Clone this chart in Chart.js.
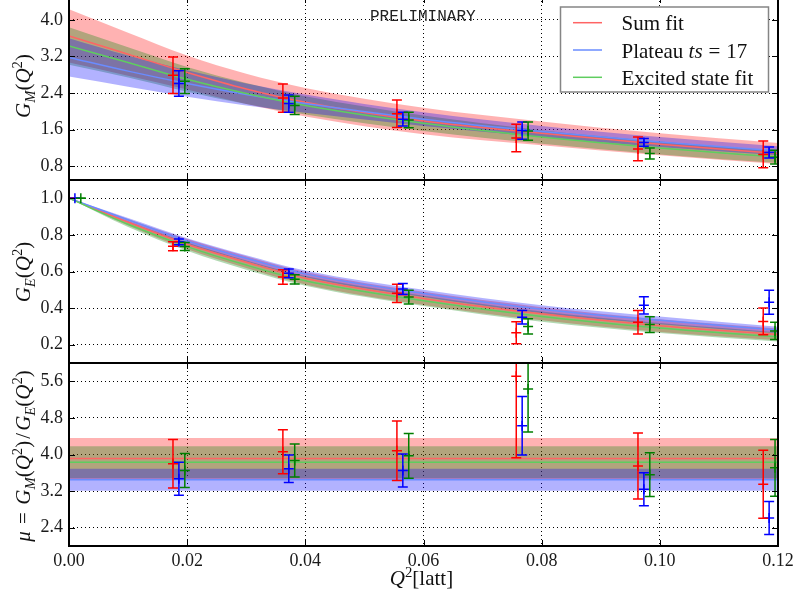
<!DOCTYPE html>
<html>
<head>
<meta charset="utf-8">
<title>Nucleon form factors</title>
<script src="https://cdn.jsdelivr.net/npm/chart.js@4.4.1/dist/chart.umd.min.js"></script>
<style>
  html, body { margin: 0; padding: 0; background: #fff; }
  #wrap { position: relative; width: 795px; height: 601px; overflow: hidden; background: #fff; }
  .panel { position: absolute; left: 0; width: 795px; }
</style>
</head>
<body>
<div id="wrap">
  <div class="panel" id="boxGM"><canvas id="cGM"></canvas></div>
  <div class="panel" id="boxGE"><canvas id="cGE"></canvas></div>
  <div class="panel" id="boxMU"><canvas id="cMU"></canvas></div>
</div>
<script>
// ---------------------------------------------------------------------------
// Data
// ---------------------------------------------------------------------------
// Q^2 of the data sets (lattice units); G_E also has the forward point Q^2 = 0
const q2 = [0.0176, 0.0362, 0.0555, 0.0757, 0.0963, 0.1175];
const q2E = [0, 0.0176, 0.0362, 0.0555, 0.0757, 0.0963, 0.1175];
// series order everywhere: [Sum fit, Plateau ts=17, Excited state fit]
const seriesShift = [0, 0.001, 0.002];   // small horizontal offsets so the bars stay apart

// magnetic form factor G_M
const gmSum = [2.79, 2.29, 1.95, 1.42, 1.18, 1.06];
const gmSumErr = [0.40, 0.31, 0.30, 0.30, 0.26, 0.29];
const gmPlat = [2.61, 2.17, 1.83, 1.58, 1.32, 1.10];
const gmPlatErr = [0.28, 0.19, 0.15, 0.19, 0.085, 0.12];
const gmExc = [2.66, 2.13, 1.81, 1.57, 1.08, 1.00];
const gmExcErr = [0.27, 0.20, 0.17, 0.20, 0.12, 0.15];

// electric form factor G_E
const geSum = [1.0, 0.738, 0.570, 0.481, 0.265, 0.323, 0.327];
const geSumErr = [0, 0.025, 0.039, 0.050, 0.060, 0.064, 0.073];
const gePlat = [1.0, 0.762, 0.590, 0.505, 0.350, 0.415, 0.432];
const gePlatErr = [0, 0.016, 0.024, 0.030, 0.037, 0.047, 0.065];
const geExc = [1.0, 0.737, 0.557, 0.460, 0.300, 0.310, 0.275];
const geExcErr = [0, 0.022, 0.025, 0.037, 0.042, 0.043, 0.047];

// magnetic moment ratio mu = G_M / G_E
const muSum = [3.80, 4.06, 4.08, 5.71, 3.75, 3.35];
const muSumErr = [0.53, 0.48, 0.65, 1.78, 0.72, 0.745];
const muPlat = [3.47, 3.69, 3.65, 4.63, 3.24, 2.61];
const muPlatErr = [0.36, 0.30, 0.36, 0.64, 0.36, 0.36];
const muExc = [3.65, 3.87, 3.97, 5.43, 3.56, 3.71];
const muExcErr = [0.37, 0.36, 0.49, 0.94, 0.48, 0.62];

// fitted curves sampled in Q^2, with their one-sigma half widths
const qFit = [0, 0.01, 0.02, 0.03, 0.04, 0.06, 0.08, 0.10, 0.12];
const gmFitSum = [3.65, 3.25, 2.85, 2.49, 2.20, 1.79, 1.52, 1.28, 1.08];
const gmFitSumErr = [0.58, 0.47, 0.37, 0.33, 0.31, 0.29, 0.26, 0.24, 0.23];
const gmFitPlat = [3.18, 2.88, 2.61, 2.37, 2.17, 1.83, 1.56, 1.33, 1.14];
const gmFitPlatErr = [0.42, 0.34, 0.29, 0.24, 0.20, 0.15, 0.12, 0.11, 0.10];
const gmFitExc = [3.43, 3.07, 2.70, 2.39, 2.13, 1.74, 1.44, 1.20, 1.00];
const gmFitExcErr = [0.41, 0.33, 0.27, 0.23, 0.20, 0.17, 0.15, 0.14, 0.13];

const geFitSum = [1.0, 0.869, 0.749, 0.651, 0.563, 0.453, 0.369, 0.304, 0.256];
const geFitSumErr = [0, 0.018, 0.028, 0.032, 0.034, 0.036, 0.036, 0.035, 0.032];
const geFitPlat = [1.0, 0.882, 0.767, 0.672, 0.587, 0.480, 0.394, 0.333, 0.280];
const geFitPlatErr = [0, 0.010, 0.015, 0.017, 0.018, 0.020, 0.022, 0.021, 0.018];
const geFitExc = [1.0, 0.858, 0.736, 0.635, 0.549, 0.440, 0.354, 0.291, 0.242];
const geFitExcErr = [0, 0.015, 0.022, 0.025, 0.027, 0.028, 0.028, 0.027, 0.025];

// constant fits of mu over the whole Q^2 range
const muFitRange = [0, 0.12];
const muFit = [3.91, 3.45, 3.83];
const muFitErr = [0.45, 0.24, 0.35];

// axis ticks
const xTicks = [0, 0.02, 0.04, 0.06, 0.08, 0.10, 0.12];
const gmTicks = [0.8, 1.6, 2.4, 3.2, 4.0];
const geTicks = [0.2, 0.4, 0.6, 0.8, 1.0];
const muTicks = [2.4, 3.2, 4.0, 4.8, 5.6];

// ---------------------------------------------------------------------------
// Styling
// ---------------------------------------------------------------------------
const SERIF = '"Liberation Serif", "DejaVu Serif", serif';
const PLOT_LEFT = 69, PLOT_RIGHT = 778;
const barColors = ['#ff0000', '#0000ff', '#007f00'];
const lineColors = ['#ff6464', '#6a8cff', '#5fcd5f'];
const bandColors = ['rgba(255,0,0,0.3)', 'rgba(0,0,255,0.3)', 'rgba(0,128,0,0.3)'];
const bandOrder = [30, 10, 20];  // sum band at the back, plateau band in front

// ---------------------------------------------------------------------------
// Dataset builders
// ---------------------------------------------------------------------------
function bandSets(xs, mid, err, k) {
  const common = { pointRadius: 0, borderWidth: 0, cubicInterpolationMode: 'monotone', order: bandOrder[k] };
  return [
    { ...common, data: xs.map((x, i) => ({ x, y: mid[i] - err[i] })), fill: false },
    { ...common, data: xs.map((x, i) => ({ x, y: mid[i] + err[i] })), fill: '-1', backgroundColor: bandColors[k] }
  ];
}
function lineSet(xs, mid, k) {
  return { data: xs.map((x, i) => ({ x, y: mid[i] })), borderColor: lineColors[k], borderWidth: 1.5,
           pointRadius: 0, fill: false, cubicInterpolationMode: 'monotone', order: 5 - k };
}
function pointSet(xs, ys, errs, k) {
  return { data: xs.map((x, i) => ({ x: x + seriesShift[k], y: ys[i] })), err: errs, showLine: false,
           pointStyle: 'cross', pointRadius: 5, pointBorderWidth: 1.5, borderColor: barColors[k],
           pointBorderColor: barColors[k], order: 1 };
}
function fitSets(xs, mids, errs) {
  let out = [];
  [0, 2, 1].forEach(k => { out = out.concat(bandSets(xs, mids[k], errs[k], k)); });
  [0, 1, 2].forEach(k => out.push(lineSet(xs, mids[k], k)));
  return out;
}

// ---------------------------------------------------------------------------
// Rich text (italics, sub- and superscripts)
// ---------------------------------------------------------------------------
function runFont(r, size) {
  const sz = r.s ? size * 0.7 : size;
  return (r.i ? 'italic ' : '') + sz + 'px ' + SERIF;
}
function runsWidth(ctx, runs, size) {
  let w = 0;
  for (const r of runs) {
    if (r.g) { w += r.g * size; continue; }
    ctx.font = runFont(r, size);
    w += ctx.measureText(r.t).width;
  }
  return w;
}
function drawRuns(ctx, runs, x, y, size) {
  let cx = x;
  for (const r of runs) {
    if (r.g) { cx += r.g * size; continue; }
    ctx.font = runFont(r, size);
    const dy = r.s === -1 ? 0.22 * size : (r.s === 1 ? -0.38 * size : 0);
    ctx.fillText(r.t, cx, y + dy);
    cx += ctx.measureText(r.t).width;
  }
}
function drawVerticalTitle(ctx, runs, baseX, centerY, size) {
  ctx.save();
  ctx.translate(baseX, centerY);
  ctx.rotate(-Math.PI / 2);
  ctx.fillStyle = '#111';
  ctx.textBaseline = 'alphabetic';
  drawRuns(ctx, runs, -runsWidth(ctx, runs, size) / 2, 0, size);
  ctx.restore();
}

const titleGM = [{ t: 'G', i: true }, { t: 'M', i: true, s: -1 }, { t: '(' }, { t: 'Q', i: true }, { t: '2', s: 1 }, { t: ')' }];
const titleGE = [{ t: 'G', i: true }, { t: 'E', i: true, s: -1 }, { t: '(' }, { t: 'Q', i: true }, { t: '2', s: 1 }, { t: ')' }];
const titleMU = [{ t: 'μ', i: true }, { g: 0.35 }, { t: '=' }, { g: 0.35 }].concat(titleGM, [{ g: 0.1 }, { t: '/' }, { g: 0.1 }], titleGE);
const titleX = [{ t: 'Q', i: true }, { t: '2', s: 1 }, { t: '[latt]' }];
const legendRuns = [
  [{ t: 'Sum fit' }],
  [{ t: 'Plateau ' }, { t: 'ts', i: true }, { g: 0.28 }, { t: '=' }, { g: 0.28 }, { t: '17' }],
  [{ t: 'Excited state fit' }]
];

// ---------------------------------------------------------------------------
// Plugins
// ---------------------------------------------------------------------------
const errorBars = {
  id: 'errorBars',
  afterDatasetsDraw(chart) {
    const { ctx, chartArea: a, scales: { x, y } } = chart;
    ctx.save();
    ctx.beginPath();
    ctx.rect(a.left, a.top, a.right - a.left, a.bottom - a.top);
    ctx.clip();
    ctx.lineWidth = 1.5;
    chart.data.datasets.forEach(ds => {
      if (!ds.err) return;
      ctx.strokeStyle = ds.borderColor;
      ds.data.forEach((p, i) => {
        const px = x.getPixelForValue(p.x);
        const lo = y.getPixelForValue(p.y - ds.err[i]);
        const hi = y.getPixelForValue(p.y + ds.err[i]);
        ctx.beginPath();
        ctx.moveTo(px, lo); ctx.lineTo(px, hi);
        ctx.moveTo(px - 5, lo); ctx.lineTo(px + 5, lo);
        ctx.moveTo(px - 5, hi); ctx.lineTo(px + 5, hi);
        ctx.stroke();
      });
    });
    ctx.restore();
  }
};

const frame = {
  id: 'frame',
  afterDraw(chart) {
    const { ctx, chartArea: a, scales: { x, y } } = chart;
    const L = 6;
    ctx.save();
    ctx.strokeStyle = '#000';
    ctx.lineWidth = 1;
    ctx.beginPath();
    y.ticks.forEach(t => {
      const py = Math.round(y.getPixelForValue(t.value)) + 0.5;
      ctx.moveTo(a.left, py); ctx.lineTo(a.left + L, py);
      ctx.moveTo(a.right - L, py); ctx.lineTo(a.right, py);
    });
    x.ticks.forEach(t => {
      const px = Math.round(x.getPixelForValue(t.value)) + 0.5;
      ctx.moveTo(px, a.top); ctx.lineTo(px, a.top + L);
      ctx.moveTo(px, a.bottom - L); ctx.lineTo(px, a.bottom);
    });
    ctx.stroke();
    ctx.lineWidth = 2;
    ctx.strokeRect(a.left, a.top, a.right - a.left, a.bottom - a.top);
    ctx.restore();
  }
};

// text decorations given in page coordinates; each chart knows its own vertical offset
function decorPlugin(offsetY, draw) {
  return {
    id: 'decor',
    afterDraw(chart) {
      const ctx = chart.ctx;
      ctx.save();
      ctx.translate(0, -offsetY);
      draw(ctx);
      ctx.restore();
    }
  };
}

// ---------------------------------------------------------------------------
// Panels
// ---------------------------------------------------------------------------
const tickFont = { family: SERIF, size: 18 };

function makePanel(canvasId, top, height, areaHeight, yMin, yMax, yTicks, datasets, bottom, extra) {
  const box = document.getElementById(canvasId).parentElement;
  box.style.top = top + 'px';
  box.style.height = height + 'px';
  return new Chart(document.getElementById(canvasId), {
    type: 'line',
    data: { datasets },
    options: {
      responsive: true,
      maintainAspectRatio: false,
      animation: false,
      events: [],
      layout: { autoPadding: false, padding: { left: 0, right: 795 - PLOT_RIGHT, top: 0, bottom: 0 } },
      plugins: { legend: { display: false }, tooltip: { enabled: false } },
      scales: {
        x: {
          type: 'linear', min: 0, max: 0.12, bounds: 'data',
          afterBuildTicks: s => { s.ticks = xTicks.map(v => ({ value: v })); },
          afterFit: s => { s.height = height - areaHeight; s.paddingLeft = 0; s.paddingRight = 0; },
          ticks: { display: bottom, font: tickFont, color: '#1a1a1a', padding: 4, maxRotation: 0,
                   autoSkip: false, callback: v => Number(v).toFixed(2) },
          grid: { color: '#000', lineWidth: 1, drawTicks: false },
          border: { display: false, dash: [1, 3] }
        },
        y: {
          type: 'linear', min: yMin, max: yMax, bounds: 'data',
          afterBuildTicks: s => { s.ticks = yTicks.map(v => ({ value: v })); },
          afterFit: s => { s.width = PLOT_LEFT; s.paddingTop = 0; s.paddingBottom = 0; },
          ticks: { font: tickFont, color: '#1a1a1a', padding: 6, callback: v => Number(v).toFixed(1) },
          grid: { color: '#000', lineWidth: 1, drawTicks: false },
          border: { display: false, dash: [1, 3] }
        }
      }
    },
    plugins: [errorBars, frame].concat(extra)
  });
}

// G_M panel
const gmData = fitSets(qFit, [gmFitSum, gmFitPlat, gmFitExc], [gmFitSumErr, gmFitPlatErr, gmFitExcErr]).concat([
  pointSet(q2, gmSum, gmSumErr, 0), pointSet(q2, gmPlat, gmPlatErr, 1), pointSet(q2, gmExc, gmExcErr, 2)
]);
makePanel('cGM', -3, 183, 183, 0.5, 4.5, gmTicks, gmData, false, [decorPlugin(-3, ctx => {
  drawVerticalTitle(ctx, titleGM, 30, 86, 21);
  ctx.fillStyle = '#222';
  ctx.font = '16px "Liberation Mono", "DejaVu Sans Mono", monospace';
  ctx.textBaseline = 'alphabetic';
  ctx.fillText('PRELIMINARY', 370, 21);
  // legend
  ctx.fillStyle = '#fff';
  ctx.fillRect(560.5, 7, 208, 85);
  ctx.strokeStyle = '#858585';
  ctx.lineWidth = 1.5;
  ctx.strokeRect(560.5, 7, 208, 85);
  [22.7, 50, 77.3].forEach((ly, k) => {
    ctx.strokeStyle = lineColors[k];
    ctx.lineWidth = 1.5;
    ctx.beginPath(); ctx.moveTo(573, ly); ctx.lineTo(602, ly); ctx.stroke();
    ctx.fillStyle = '#111';
    drawRuns(ctx, legendRuns[k], 621.5, ly + 7.5, 21);
  });
})]);

// G_E panel
const geData = fitSets(qFit, [geFitSum, geFitPlat, geFitExc], [geFitSumErr, geFitPlatErr, geFitExcErr]).concat([
  pointSet(q2E, geSum, geSumErr, 0), pointSet(q2E, gePlat, gePlatErr, 1), pointSet(q2E, geExc, geExcErr, 2)
]);
makePanel('cGE', 180, 183, 183, 0.1, 1.1, geTicks, geData, false, [decorPlugin(180, ctx => {
  drawVerticalTitle(ctx, titleGE, 30, 272, 21);
})]);

// mu panel
const muData = fitSets(muFitRange,
  muFit.map(v => [v, v]), muFitErr.map(e => [e, e])).concat([
  pointSet(q2, muSum, muSumErr, 0), pointSet(q2, muPlat, muPlatErr, 1), pointSet(q2, muExc, muExcErr, 2)
]);
makePanel('cMU', 363, 238, 183, 2.0, 6.0, muTicks, muData, true, [decorPlugin(363, ctx => {
  drawVerticalTitle(ctx, titleMU, 30, 456, 21);
  ctx.fillStyle = '#111';
  ctx.textBaseline = 'alphabetic';
  const w = runsWidth(ctx, titleX, 21);
  drawRuns(ctx, titleX, 421.5 - w / 2, 585, 21);
})]);
</script>
</body>
</html>
